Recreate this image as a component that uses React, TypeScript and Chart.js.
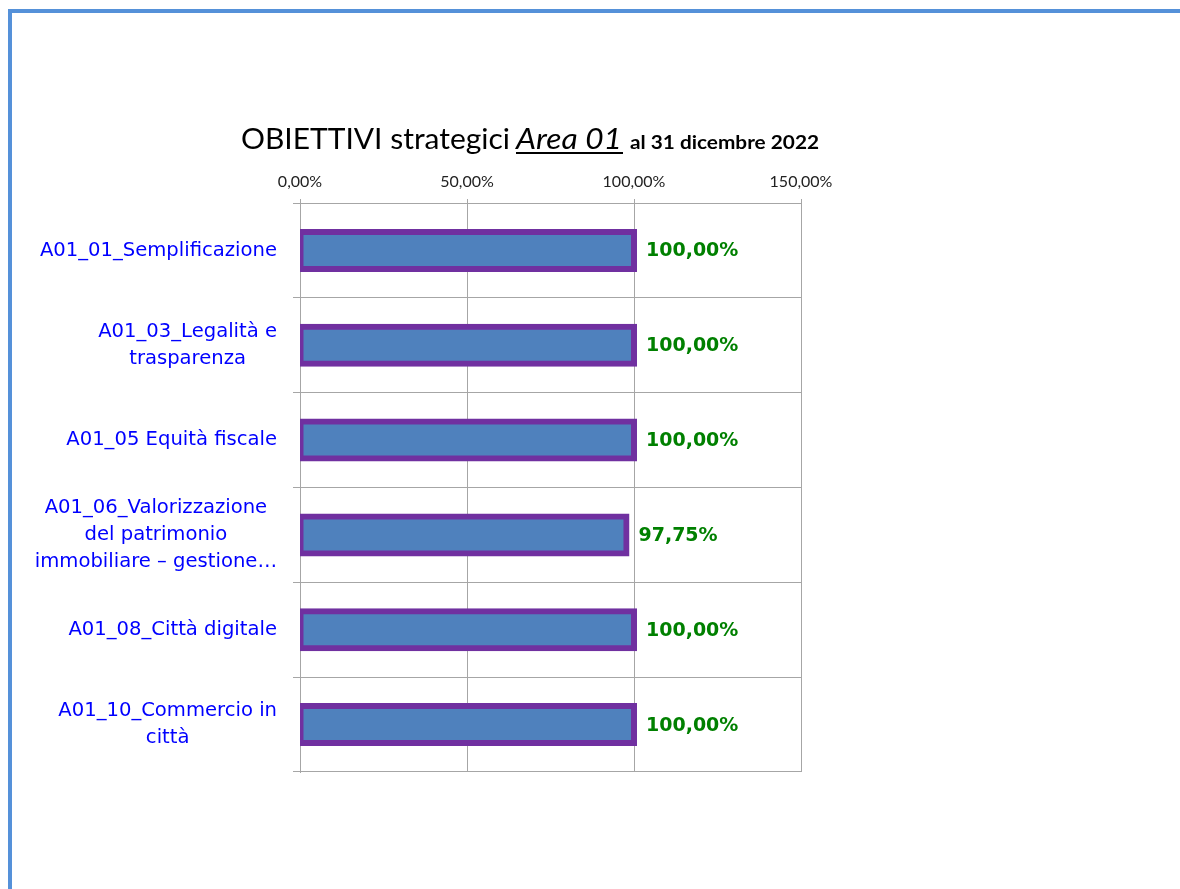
import React, { useEffect, useRef } from "react";
import { Chart, registerables } from "chart.js";

Chart.register(...registerables);

// ---- data ----
const categories: string[][] = [
  ["A01_01_Semplificazione"],
  ["A01_03_Legalità e", "trasparenza"],
  ["A01_05 Equità fiscale"],
  ["A01_06_Valorizzazione", "del patrimonio", "immobiliare – gestione…"],
  ["A01_08_Città digitale"],
  ["A01_10_Commercio in", "città"],
];
const values: number[] = [100, 100, 100, 97.75, 100, 100];
const xTickValues: number[] = [0, 50, 100, 150];
const titleMain = "OBIETTIVI strategici";
const titleArea = "Area 01";
const titleDate = "al 31 dicembre 2022";

const fmt = (v: number) => v.toFixed(2).replace(".", ",") + "%";

export default function App() {
  const ref = useRef<HTMLCanvasElement>(null);

  useEffect(() => {
    const canvas = ref.current!;

    const drawFit = (ctx: CanvasRenderingContext2D, text: string, font: string, x: number, y: number, w: number) => {
      ctx.font = font;
      const m = ctx.measureText(text).width;
      ctx.save();
      ctx.translate(x, y);
      ctx.scale(w / m, 1);
      ctx.fillText(text, 0, 0);
      ctx.restore();
    };

    const titlePlugin = {
      id: "segTitle",
      afterDraw(chart: any) {
        const ctx: CanvasRenderingContext2D = chart.ctx;
        ctx.save();
        ctx.fillStyle = "#000";
        ctx.textAlign = "left";
        ctx.textBaseline = "alphabetic";
        const base = 149;
        drawFit(ctx, titleMain, "29px Lato", 241, base, 269);
        drawFit(ctx, titleArea, "italic 28px Lato", 516, base, 106);
        ctx.fillRect(516, 152, 107, 2);
        drawFit(ctx, titleDate, "bold 19px Lato", 630, base, 189);
        ctx.restore();
      },
    };

    const yLabelPlugin = {
      id: "yLabels",
      afterDraw(chart: any) {
        const ctx: CanvasRenderingContext2D = chart.ctx;
        const ys = chart.scales.y;
        ctx.save();
        ctx.font = "19.6px 'DejaVu Sans'";
        ctx.fillStyle = "#0000ff";
        ctx.textAlign = "center";
        ctx.textBaseline = "middle";
        const right = chart.chartArea.left - 23;
        const lh = 27;
        categories.forEach((lines, i) => {
          const yc = ys.getPixelForTick(i);
          const widest = Math.max(...lines.map((l) => ctx.measureText(l).width));
          const cx = right - widest / 2;
          lines.forEach((l, j) => {
            ctx.fillText(l, cx, yc + (j - (lines.length - 1) / 2) * lh);
          });
        });
        ctx.restore();
      },
    };

    const dataLabelPlugin = {
      id: "dataLabels",
      afterDatasetsDraw(chart: any) {
        const ctx: CanvasRenderingContext2D = chart.ctx;
        const meta = chart.getDatasetMeta(0);
        ctx.save();
        ctx.font = "bold 19px 'DejaVu Sans'";
        ctx.fillStyle = "#008000";
        ctx.textAlign = "left";
        ctx.textBaseline = "middle";
        meta.data.forEach((el: any, i: number) => {
          ctx.fillText(fmt(values[i]), el.x + 12, el.y + 1);
        });
        ctx.restore();
      },
    };

    const chart = new Chart(canvas, {
      type: "bar",
      data: {
        labels: categories.map((l) => l.join(" ")),
        datasets: [
          {
            data: values,
            backgroundColor: "#4f81bd",
            borderColor: "#7030a0",
            borderWidth: 6,
            inflateAmount: 3,
            borderSkipped: false,
            barThickness: 37,
            clip: 0,
          } as any,
        ],
      },
      options: {
        indexAxis: "y",
        responsive: false,
        animation: false,
        layout: { padding: { left: 0, top: 150, right: 379, bottom: 117 } },
        plugins: {
          legend: { display: false },
          title: { display: false },
          tooltip: { enabled: false },
        },
        scales: {
          x: {
            position: "top",
            min: 0,
            max: 150,
            afterFit: (s: any) => {
              s.height = 53;
            },
            afterBuildTicks: (s: any) => {
              s.ticks = xTickValues.map((v) => ({ value: v }));
            },
            ticks: {
              padding: 8,
              color: "#222",
              font: { family: "Lato", size: 16 },
              callback: (v: any) => fmt(Number(v)),
            },
            grid: { color: "#a6a6a6", tickLength: 4, lineWidth: 1 },
            border: { color: "#a6a6a6" },
          },
          y: {
            afterFit: (s: any) => {
              s.width = 300;
            },
            ticks: { display: false },
            grid: { color: "#a6a6a6", tickLength: 7, lineWidth: 1 },
            border: { color: "#a6a6a6" },
          },
        },
      } as any,
      plugins: [titlePlugin, yLabelPlugin, dataLabelPlugin],
    });

    if ((document as any).fonts) {
      Promise.all([
        document.fonts.load("29px Lato"),
        document.fonts.load("italic 28px Lato"),
        document.fonts.load("bold 19px Lato"),
        document.fonts.load("19.6px 'DejaVu Sans'"),
        document.fonts.load("bold 19px 'DejaVu Sans'"),
      ])
        .then(() => chart.update())
        .catch(() => {});
    }

    return () => chart.destroy();
  }, []);

  return (
    <div style={{ position: "fixed", left: 0, top: 0, width: 1180, height: 889, background: "#fff", overflow: "hidden" }}>
      <div style={{ position: "absolute", left: 8, top: 9, width: 1172, height: 4, background: "#5591d9" }} />
      <div style={{ position: "absolute", left: 8, top: 9, width: 4, height: 880, background: "#5591d9" }} />
      <canvas ref={ref} width={1180} height={889} style={{ position: "absolute", left: 0, top: 0, width: 1180, height: 889 }} />
    </div>
  );
}
